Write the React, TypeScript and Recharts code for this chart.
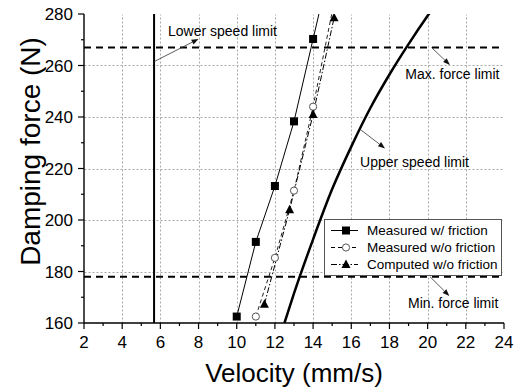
import {
  ComposedChart,
  Line,
  XAxis,
  YAxis,
  ReferenceLine,
  ReferenceDot,
  Legend,
} from 'recharts';

// measured / computed damping force vs velocity
const velFriction = [10, 11, 12, 13, 14, 15];
const forceFriction = [162.5, 191.5, 213.2, 238.3, 270.3, 302];

const velNoFriction = [11, 12, 13, 14, 15.1];
const forceNoFriction = [162.5, 185.3, 211.4, 244, 284.5];

const velComputed = [11.45, 12.77, 14, 15.1];
const forceComputed = [167.3, 204, 241, 278.5];

// upper speed limit curve
const velUpper = [12.5, 13, 14, 15, 16, 17, 18, 19, 20, 20.5];
const forceUpper = [160, 171.5, 192.5, 212, 228.5, 243.5, 256.5, 268.3, 279.3, 284.5];

const lowerSpeedLimit = 5.67;
const maxForceLimit = 267;
const minForceLimit = 178;

const xTicks = [2, 3, 4, 5, 6, 7, 8, 9, 10, 11, 12, 13, 14, 15, 16, 17, 18, 19, 20, 21, 22, 23, 24];
const xMajor = [2, 4, 6, 8, 10, 12, 14, 16, 18, 20, 22, 24];
const yTicks = [160, 170, 180, 190, 200, 210, 220, 230, 240, 250, 260, 270, 280];
const yMajor = [160, 180, 200, 220, 240, 260, 280];
const xGrid = [4, 6, 8, 10, 12, 14, 16, 18, 20, 22];
const yGrid = [180, 200, 220, 240, 260];

const legendOrder = ['Measured w/ friction', 'Measured w/o friction', 'Computed w/o friction'];

const annotations = [
  { text: 'Lower speed limit', x: 6.4, y: 273.4, anchor: 'start', from: [5.67, 261.5], to: [8.0, 270.3] },
  { text: 'Max. force limit', x: 23.76, y: 256.6, anchor: 'end', from: [20.2, 267], to: [21.17, 260.2] },
  { text: 'Upper speed limit', x: 16.46, y: 222.4, anchor: 'start', from: [16.5, 235], to: [17.77, 227.8] },
  { text: 'Min. force limit', x: 23.7, y: 167.7, anchor: 'end', from: [20.12, 178], to: [21.14, 170.5] },
];

const toPoints = (xs: number[], ys: number[]) => xs.map((v, i) => ({ v, f: ys[i] }));

const FONT = '"Liberation Sans", Arial, sans-serif';

const markerStyle: Record<string, { dash?: string; marker: string }> = {
  'Measured w/ friction': { marker: 'square' },
  'Measured w/o friction': { dash: '4 3', marker: 'circle' },
  'Computed w/o friction': { dash: '6 2 1.5 2', marker: 'triangle' },
};

function Marker({ kind, cx, cy }: { kind: string; cx: number; cy: number }) {
  if (kind === 'square') {
    return <rect x={cx - 4} y={cy - 4} width={8} height={8} fill="#000" />;
  }
  if (kind === 'circle') {
    return <circle cx={cx} cy={cy} r={3.6} fill="#fff" stroke="#555" strokeWidth={1} />;
  }
  return <polygon points={`${cx},${cy - 5} ${cx - 4.5},${cy + 3.5} ${cx + 4.5},${cy + 3.5}`} fill="#000" />;
}

const dotFor = (kind: string) => (p: any) => (
  <g key={`${kind}-${p.index}`}>
    <Marker kind={kind} cx={p.cx} cy={p.cy} />
  </g>
);

const XTick = (props: any) => {
  const { x, y, payload } = props;
  const major = xMajor.includes(payload.value);
  return (
    <g>
      <line x1={x} y1={y} x2={x} y2={y + (major ? 6 : 3)} stroke="#000" strokeWidth={1.2} />
      {major && (
        <text x={x} y={y + 25} textAnchor="middle" fontSize={17} fill="#000">
          {payload.value}
        </text>
      )}
    </g>
  );
};

// y ticks also carry the horizontal dotted grid line across the plot
const YTick = (props: any) => {
  const { x, y, payload } = props;
  const major = yMajor.includes(payload.value);
  return (
    <g>
      <line x1={x - (major ? 6 : 3)} y1={y} x2={x} y2={y} stroke="#000" strokeWidth={1.2} />
      {major && (
        <text x={x - 11} y={y + 6} textAnchor="end" fontSize={17} fill="#000">
          {payload.value}
        </text>
      )}
    </g>
  );
};

const ArrowShape = (p: any) => {
  const { x1, y1, x2, y2 } = p;
  const a = Math.atan2(y2 - y1, x2 - x1);
  const len = 7;
  const w = 2.6;
  const bx = x2 - len * Math.cos(a);
  const by = y2 - len * Math.sin(a);
  const pts = `${x2},${y2} ${bx + w * Math.sin(a)},${by - w * Math.cos(a)} ${bx - w * Math.sin(a)},${by + w * Math.cos(a)}`;
  return (
    <g>
      <line x1={x1} y1={y1} x2={bx} y2={by} stroke="#333" strokeWidth={0.8} />
      <polygon points={pts} fill="#111" />
    </g>
  );
};

const GridShape = (p: any) => {
  const { x1, y1, x2, y2 } = p;
  return (
    <path
      d={`M${Math.round(x1) + 0.5},${Math.round(y1) + 0.5}L${Math.round(x2) + 0.5},${Math.round(y2) + 0.5}`}
      stroke="#a8a8a8"
      strokeWidth={1}
      strokeDasharray="2 2"
      fill="none"
    />
  );
};

const renderLegend = (props: any) => {
  const items = legendOrder.filter((name) => (props.payload || []).some((it: any) => it.value === name));
  return (
    <div
      style={{
        border: '1px solid #555',
        background: '#fff',
        padding: '2px 0',
        fontFamily: FONT,
        fontSize: 13.5,
        color: '#000',
        textAlign: 'left',
      }}
    >
      {items.map((name) => {
        const st = markerStyle[name];
        return (
          <div key={name} style={{ display: 'flex', justifyContent: 'flex-start', alignItems: 'center', height: 17 }}>
            <svg width={40} height={17} style={{ display: 'block', flex: 'none' }}>
              <line x1={6} y1={8.5} x2={33} y2={8.5} stroke="#000" strokeWidth={1} strokeDasharray={st.dash} />
              <Marker kind={st.marker} cx={21} cy={8.5} />
            </svg>
            <span style={{ marginLeft: 2, whiteSpace: 'nowrap' }}>{name}</span>
          </div>
        );
      })}
    </div>
  );
};

export default function App() {
  return (
    <div style={{ position: 'absolute', left: 0, top: 0, fontFamily: FONT }}>
      <ComposedChart width={514} height={387} margin={{ top: 14, right: 10, left: 0, bottom: 0 }}>
        <XAxis
          dataKey="v"
          type="number"
          domain={[2, 24]}
          ticks={xTicks}
          interval={0}
          allowDataOverflow
          height={64}
          tickSize={0}
          tickMargin={0}
          tickLine={false}
          tick={XTick}
          axisLine={{ stroke: '#000', strokeWidth: 1.4 }}
          label={{
            value: 'Velocity (mm/s)',
            content: (lp: any) => (
              <text
                x={lp.viewBox.x + lp.viewBox.width / 2}
                y={lp.viewBox.y + 59}
                textAnchor="middle"
                fontSize={26}
                fill="#000"
              >
                Velocity (mm/s)
              </text>
            ),
          }}
        />
        <XAxis
          xAxisId="top"
          orientation="top"
          type="number"
          domain={[2, 24]}
          ticks={xMajor}
          allowDataOverflow
          height={0}
          tick={false}
          tickLine={false}
          axisLine={{ stroke: '#000', strokeWidth: 1.4 }}
        />
        <YAxis
          type="number"
          domain={[160, 280]}
          ticks={yTicks}
          interval={0}
          allowDataOverflow
          width={84}
          tickSize={0}
          tickMargin={0}
          tickLine={false}
          tick={YTick}
          axisLine={{ stroke: '#000', strokeWidth: 1.4 }}
          label={{
            value: 'Damping force (N)',
            content: (lp: any) => {
              const cx = lp.viewBox.x + 30;
              const cy = lp.viewBox.y + lp.viewBox.height / 2 - 17;
              return (
                <text
                  transform={`translate(${cx},${cy}) rotate(-90)`}
                  textAnchor="middle"
                  dominantBaseline="central"
                  fontSize={28}
                  fill="#000"
                >
                  Damping force (N)
                </text>
              );
            },
          }}
        />
        <YAxis
          yAxisId="right"
          orientation="right"
          type="number"
          domain={[160, 280]}
          ticks={yMajor}
          allowDataOverflow
          width={0}
          tick={false}
          tickLine={false}
          axisLine={{ stroke: '#000', strokeWidth: 1.4 }}
        />

        {/* dotted grid */}
        {xGrid.map((v) => (
          <ReferenceLine
            key={`gx-${v}`}
            segment={[
              { x: v, y: 160 },
              { x: v, y: 280 },
            ]}
            shape={GridShape}
          />
        ))}
        {yGrid.map((f) => (
          <ReferenceLine
            key={`gy-${f}`}
            segment={[
              { x: 2, y: f },
              { x: 24, y: f },
            ]}
            shape={GridShape}
          />
        ))}

        <ReferenceLine x={lowerSpeedLimit} stroke="#000" strokeWidth={2} />
        <ReferenceLine y={maxForceLimit} stroke="#000" strokeWidth={2} strokeDasharray="7 5" />
        <ReferenceLine y={minForceLimit} stroke="#000" strokeWidth={2} strokeDasharray="7 5" />

        {annotations.map((a) => (
          <ReferenceLine
            key={`arrow-${a.text}`}
            segment={[
              { x: a.from[0], y: a.from[1] },
              { x: a.to[0], y: a.to[1] },
            ]}
            shape={ArrowShape}
          />
        ))}
        {annotations.map((a) => (
          <ReferenceDot
            key={`label-${a.text}`}
            x={a.x}
            y={a.y}
            r={0}
            shape={(p: any) => (
              <text x={p.cx} y={p.cy} textAnchor={a.anchor} dominantBaseline="central" fontSize={14} fill="#000">
                {a.text}
              </text>
            )}
          />
        ))}

        <Line
          data={toPoints(velUpper, forceUpper)}
          dataKey="f"
          name="Upper speed limit"
          type="monotone"
          stroke="#000"
          strokeWidth={2.5}
          dot={false}
          legendType="none"
          isAnimationActive={false}
        />
        <Line
          data={toPoints(velFriction, forceFriction)}
          dataKey="f"
          name="Measured w/ friction"
          type="linear"
          stroke="#000"
          strokeWidth={1}
          dot={dotFor('square')}
          isAnimationActive={false}
        />
        <Line
          data={toPoints(velNoFriction, forceNoFriction)}
          dataKey="f"
          name="Measured w/o friction"
          type="linear"
          stroke="#222"
          strokeWidth={1}
          strokeDasharray="4 3"
          dot={dotFor('circle')}
          isAnimationActive={false}
        />
        <Line
          data={toPoints(velComputed, forceComputed)}
          dataKey="f"
          name="Computed w/o friction"
          type="linear"
          stroke="#000"
          strokeWidth={1}
          strokeDasharray="6 2 1.5 2"
          dot={dotFor('triangle')}
          isAnimationActive={false}
        />

        <Legend
          layout="vertical"
          align="center"
          verticalAlign="middle"
          wrapperStyle={{ left: 324, top: 219, width: 178 }}
          content={renderLegend}
        />
      </ComposedChart>
    </div>
  );
}
